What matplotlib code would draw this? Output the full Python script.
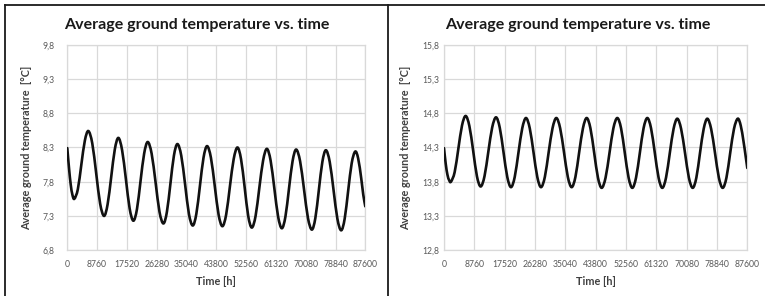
import matplotlib
matplotlib.use("Agg")
import matplotlib.pyplot as plt
from matplotlib.lines import Line2D
from matplotlib.path import Path
from matplotlib.patches import PathPatch

plt.rcParams['font.family'] = ['Lato', 'DejaVu Sans']

# ---------------- data ----------------
hours_left = [0, 500, 1000, 1500, 2070, 3100, 4130, 5160, 6190, 7340, 8500, 9650, 10800,
              11850, 12910, 13960, 15010, 16110, 17220, 18320, 19420, 20480, 21530, 22590,
              23640, 24790, 25950, 27100, 28250, 29280, 30310, 31340, 32370, 33500, 34630,
              35750, 36880, 37930, 38990, 40040, 41090, 42220, 43340, 44470, 45590, 46700,
              47800, 48910, 50010, 51070, 52130, 53180, 54240, 55350, 56450, 57560, 58660,
              59760, 60870, 61970, 63070, 64120, 65170, 66220, 67270, 68430, 69580, 70740,
              71890, 72920, 73950, 74980, 76010, 77140, 78260, 79390, 80510, 81540, 82570,
              83600, 84630, 85500, 86400, 87000, 87600]
temp_left = [8.29, 8.00, 7.76, 7.61, 7.55, 7.69, 8.05, 8.40, 8.54, 8.36, 7.92, 7.48, 7.30,
             7.47, 7.87, 8.27, 8.44, 8.26, 7.84, 7.41, 7.23, 7.40, 7.81, 8.21, 8.38, 8.21,
             7.79, 7.36, 7.19, 7.36, 7.77, 8.18, 8.35, 8.18, 7.76, 7.33, 7.16, 7.33, 7.74,
             8.15, 8.32, 8.15, 7.74, 7.32, 7.15, 7.32, 7.73, 8.13, 8.30, 8.13, 7.72, 7.30,
             7.13, 7.30, 7.71, 8.11, 8.28, 8.11, 7.70, 7.29, 7.12, 7.29, 7.70, 8.10, 8.27,
             8.10, 7.69, 7.27, 7.10, 7.27, 7.68, 8.09, 8.26, 8.09, 7.68, 7.26, 7.09, 7.26,
             7.67, 8.07, 8.24, 8.14, 7.85, 7.61, 7.44]

hours_right = [0, 500, 1000, 1500, 2020, 3080, 4140, 5200, 6260, 7340, 8430, 9510, 10590,
               11700, 12810, 13910, 15020, 16100, 17190, 18270, 19350, 20430, 21520, 22600,
               23680, 24770, 25850, 26940, 28020, 29130, 30230, 31340, 32440, 33550, 34660,
               35760, 36870, 37960, 39040, 40130, 41210, 42290, 43380, 44460, 45540, 46670,
               47800, 48920, 50050, 51140, 52220, 53310, 54390, 55470, 56560, 57640, 58720,
               59800, 60890, 61970, 63050, 64130, 65220, 66300, 67380, 68490, 69610, 70720,
               71830, 72890, 73940, 75000, 76050, 77160, 78270, 79380, 80490, 81580, 82660,
               83750, 84830, 85700, 86500, 87100, 87600]
temp_right = [14.29, 14.06, 13.90, 13.82, 13.80, 13.94, 14.28, 14.62, 14.76, 14.61, 14.25,
              13.88, 13.73, 13.88, 14.24, 14.59, 14.74, 14.59, 14.23, 13.87, 13.72, 13.87,
              14.23, 14.58, 14.73, 14.58, 14.23, 13.87, 13.72, 13.87, 14.23, 14.58, 14.73,
              14.58, 14.23, 13.87, 13.72, 13.87, 14.23, 14.58, 14.73, 14.58, 14.22, 13.86,
              13.71, 13.86, 14.22, 14.58, 14.73, 14.58, 14.22, 13.86, 13.71, 13.86, 14.22,
              14.58, 14.73, 14.58, 14.22, 13.86, 13.71, 13.86, 14.22, 14.57, 14.72, 14.57,
              14.22, 13.86, 13.71, 13.86, 14.22, 14.57, 14.72, 14.57, 14.22, 13.86, 13.71,
              13.86, 14.22, 14.57, 14.72, 14.62, 14.39, 14.18, 14.00]

x_ticks = [0, 8760, 17520, 26280, 35040, 43800, 52560, 61320, 70080, 78840, 87600]
y_ticks_left = [6.8, 7.3, 7.8, 8.3, 8.8, 9.3, 9.8]
y_ticks_right = [12.8, 13.3, 13.8, 14.3, 14.8, 15.3, 15.8]

title_text = "Average ground temperature vs. time"
x_label = "Time [h]"
y_label = "Average ground temperature  [°C]"

# ---------------- figure ----------------
W, H = 765, 296
fig = plt.figure(figsize=(W / 100, H / 100), dpi=100)
fig.patch.set_facecolor("white")

GRID = "#d9d9d9"
TICK = "#595959"


def px_axes(l, r, t, b):
    return [l / W, 1 - b / H, (r - l) / W, (b - t) / H]


def smooth_path(xs, ys):
    """Smoothed line through the data points (like a spreadsheet 'smoothed line')."""
    n = len(xs)
    verts = [(xs[0], ys[0])]
    codes = [Path.MOVETO]
    for i in range(n - 1):
        i0 = max(i - 1, 0)
        i3 = min(i + 2, n - 1)
        c1 = (xs[i] + (xs[i + 1] - xs[i0]) / 6, ys[i] + (ys[i + 1] - ys[i0]) / 6)
        c2 = (xs[i + 1] - (xs[i3] - xs[i]) / 6, ys[i + 1] - (ys[i3] - ys[i]) / 6)
        verts += [c1, c2, (xs[i + 1], ys[i + 1])]
        codes += [Path.CURVE4] * 3
    return Path(verts, codes)


def draw(ax, hours, temps, yticks, ypad):
    ax.add_patch(PathPatch(smooth_path(hours, temps), fill=False, edgecolor="#111111",
                           lw=1.9, capstyle="round", joinstyle="round", zorder=3))
    ax.set_xlim(x_ticks[0], x_ticks[-1])
    ax.set_ylim(yticks[0], yticks[-1])
    ax.set_xticks(x_ticks)
    ax.set_xticklabels([str(v) for v in x_ticks])
    ax.set_yticks(yticks)
    ax.set_yticklabels([f"{v:.1f}".replace(".", ",") for v in yticks])
    ax.grid(True, color=GRID, lw=0.9)
    ax.set_axisbelow(True)
    for s in ax.spines.values():
        s.set_color(GRID)
        s.set_linewidth(0.9)
    ax.tick_params(axis="both", length=0, labelsize=6.2, labelcolor=TICK)
    ax.tick_params(axis="x", pad=7)
    ax.tick_params(axis="y", pad=ypad)
    ax.set_xlabel(x_label, fontsize=7.8, fontweight="bold", color="#404040", labelpad=5)
    ax.set_ylabel(y_label, fontsize=7.8, fontweight="bold", color="#404040", labelpad=8)


ax1 = fig.add_axes(px_axes(67.3, 365.3, 44.7, 250.2))
draw(ax1, hours_left, temp_left, y_ticks_left, 9)
ax2 = fig.add_axes(px_axes(444, 747.3, 44.7, 250.2))
draw(ax2, hours_right, temp_right, y_ticks_right, 3.5)

fig.text(196.5 / W, 1 - 25 / H, title_text, ha="center", va="center",
         fontsize=11.5, fontweight="bold", color="#1a1a1a")
fig.text(578 / W, 1 - 25 / H, title_text, ha="center", va="center",
         fontsize=11.5, fontweight="bold", color="#1a1a1a")

# panel frame lines
fig.add_artist(Line2D([5.3 / W, 1], [1 - 4.5 / H, 1 - 4.5 / H], color="#1a1a1a", lw=1.3,
                      transform=fig.transFigure))
fig.add_artist(Line2D([5.3 / W, 5.3 / W], [0, 1 - 4.5 / H], color="#1a1a1a", lw=1.3,
                      transform=fig.transFigure))
fig.add_artist(Line2D([388 / W, 388 / W], [0, 1 - 4.5 / H], color="#1a1a1a", lw=1.3,
                      transform=fig.transFigure))

fig.savefig("out.png", dpi=100, facecolor="white")
